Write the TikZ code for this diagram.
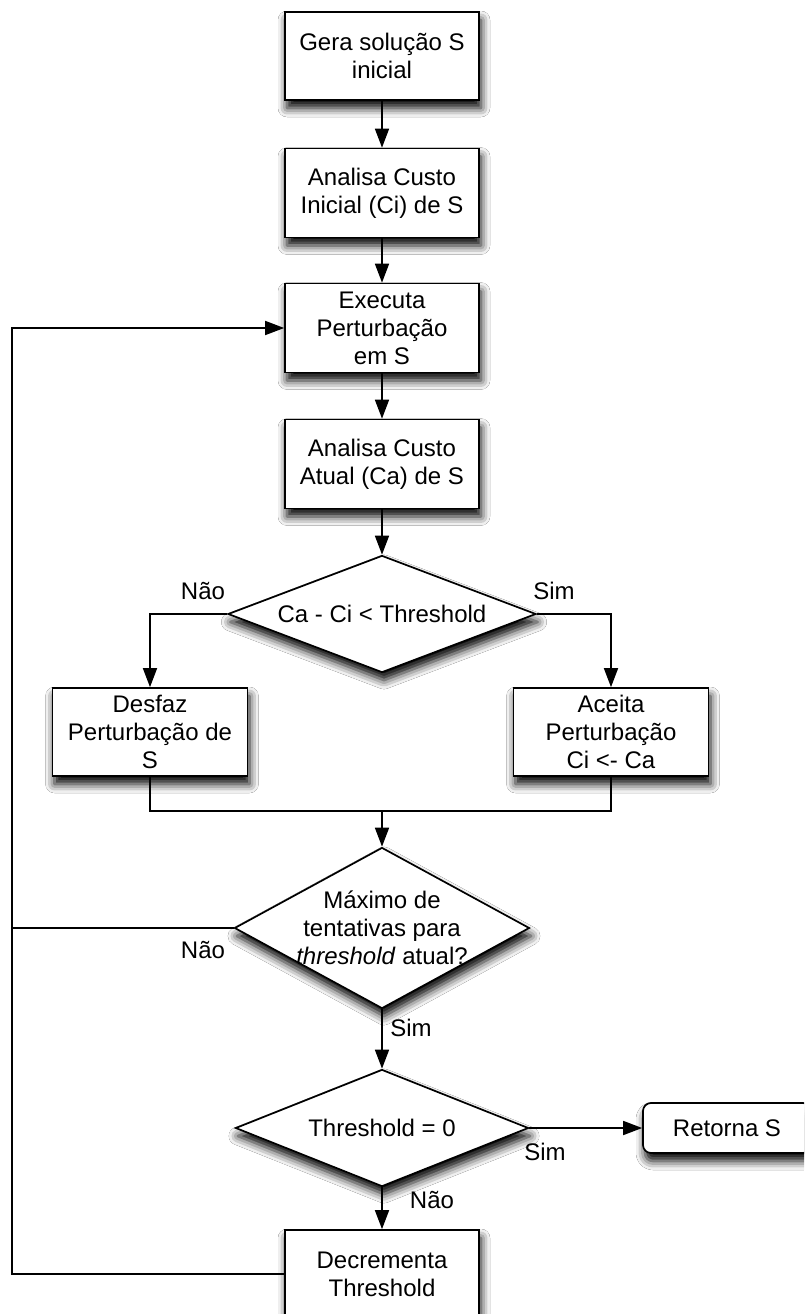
\documentclass[tikz,border=0pt]{standalone}
\usepackage{fontspec}
\setmainfont{Liberation Sans}
\usetikzlibrary{shapes.geometric,arrows.meta,shadows.blur}
\begin{document}
\begin{tikzpicture}[x=1pt,y=-1pt,
  every node/.style={font=\fontsize{24}{28}\selectfont},
  softshadow/.style={blur shadow={shadow xshift=2pt,shadow yshift=-8pt,shadow blur radius=9pt,shadow opacity=100}},
  stepbox/.style={rectangle,draw,line width=1.7pt,fill=white,softshadow,minimum width=194pt,minimum height=88pt,align=center,inner sep=2pt},
  endbox/.style={stepbox,rounded corners=8pt,minimum width=168pt,minimum height=50pt},
  decision/.style={diamond,draw,line width=1.7pt,fill=white,softshadow,inner sep=0pt},
  txt/.style={align=center,inner sep=0pt},
  flow/.style={line width=1.7pt,-{Triangle[length=19pt,width=14pt]}},
  link/.style={line width=1.7pt},
  tag/.style={inner sep=0pt}]

% page frame
\clip (0,0) rectangle (804,1314);
\fill[white] (0,0) rectangle (804,1314);

% process boxes
\node[stepbox] (gera) at (382,56) {Gera solução S\\inicial};
\node[stepbox,minimum height=89pt] (ci) at (382,193) {Analisa Custo\\Inicial (Ci) de S};
\node[stepbox,minimum height=89pt] (pert) at (382,328) {Executa\\Perturbação\\em S};
\node[stepbox,minimum height=89pt] (ca) at (382,464) {Analisa Custo\\Atual (Ca) de S};

% first decision
\node[decision,minimum width=308pt,minimum height=117pt] (d1) at (382,614) {};
\node[txt] (d1t) at (d1) {Ca - Ci < Threshold};

\node[stepbox,minimum width=195pt] (desfaz) at (150,732) {Desfaz\\Perturbação de\\S};
\node[stepbox,minimum width=195pt] (aceita) at (611,732) {Aceita\\Perturbação\\Ci <- Ca};
\coordinate (join) at (382,811);

% second decision
\node[decision,minimum width=295pt,minimum height=161pt] (d2) at (382,928) {};
\node[txt] (d2t) at (d2) {Máximo de\\tentativas para\\\textit{threshold} atual?};

% third decision
\node[decision,minimum width=293pt,minimum height=117pt] (d3) at (382,1128) {};
\node[txt] (d3t) at (d3) {Threshold = 0};

\node[endbox] (ret) at (727,1128) {Retorna S};
\node[stepbox] (dec) at (382,1274) {Decrementa\\Threshold};

\coordinate (lx) at (12,0);

% connectors
\draw[flow] (gera) -- (ci);
\draw[flow] (ci) -- (pert);
\draw[flow] (pert) -- (ca);
\draw[flow] (ca) -- (d1.north);
\draw[flow] (d1.west) -| (desfaz.north);
\draw[flow] (d1.east) -| (aceita.north);
\draw[link] (desfaz.south) -- (desfaz.south |- join) -- (aceita.south |- join) -- (aceita.south);
\draw[flow] (join) -- (d2.north);
\draw[link] (d2.west) -- (d2.west -| lx);
\draw[flow] (d2.south) -- (d3.north);
\draw[flow] (d3.east) -- (ret.west);
\draw[flow] (d3.south) -- (dec.north);
\draw[flow] (dec.west) -- (dec.west -| lx) -- (pert.west -| lx) -- (pert.west);

% branch labels
\node[tag] (n1) at (203,591) {Não};
\node[tag] (s1) at (554,591) {Sim};
\node[tag] (n2) at (203,950) {Não};
\node[tag] (s2) at (411,1028) {Sim};
\node[tag] (s3) at (545,1152) {Sim};
\node[tag] (n3) at (432,1200) {Não};
\end{tikzpicture}
\end{document}
